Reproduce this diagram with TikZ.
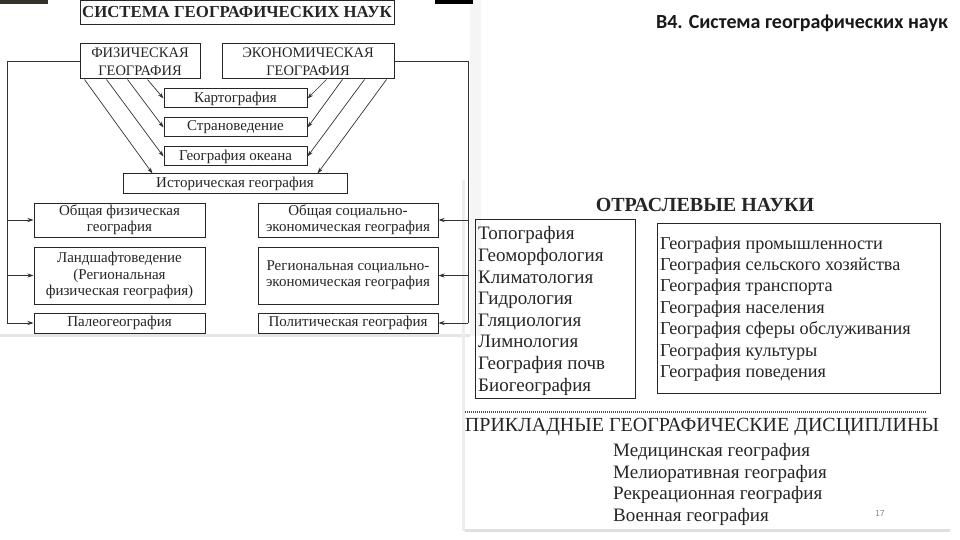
\documentclass[tikz,border=0pt]{standalone}
\usepackage{fontspec}
\setmainfont{Liberation Serif}
\newfontfamily\hdrfont{Carlito}
\usetikzlibrary{arrows.meta}
\newcommand\fTitle{\fontsize{16.8}{18}\bfseries\selectfont}
\newcommand\fCaps{\fontsize{14.5}{18}\selectfont}
\newcommand\fSmall{\fontsize{15}{16.3}\selectfont}
\newcommand\fList{\fontsize{19}{21.6}\selectfont}
\newcommand\fListR{\fontsize{18.2}{21.4}\selectfont}
\newcommand\fBig{\fontsize{20}{24}\selectfont}
\begin{document}
\begin{tikzpicture}[x=1pt,y=-1pt,
  bx/.style={draw=black!85, line width=1pt, inner sep=0pt, align=center, text=black!85},
  ln/.style={draw=black!80, line width=0.7pt},
  arr/.style={ln, -{Stealth[length=6pt,width=4pt]}},
  lst/.style={align=left, inner sep=0pt, text=black!85, font=\fList}
]
\useasboundingbox[fill=white] (0,0) rectangle (960,540);
% background strips
\fill[black!4] (470,0) rectangle (481,336);
\fill[black!10] (0,334) rectangle (470,337);
\fill[black!85!olive] (0,0) rectangle (48,4);
\fill[black] (435,0) rectangle (473,4);
\fill[black!7] (462,180) rectangle (465,531);
\fill[black!12] (465,529) rectangle (950,532);

% left diagram
\node[bx, minimum width=314pt, minimum height=24pt, font=\fTitle] (title) at (237,12.5) {СИСТЕМА ГЕОГРАФИЧЕСКИХ НАУК};
\node[bx, minimum width=120pt, minimum height=35pt, font=\fCaps] (phys) at (140,61.5) {ФИЗИЧЕСКАЯ\\ГЕОГРАФИЯ};
\node[bx, minimum width=172pt, minimum height=35pt, font=\fCaps] (econ) at (308,61.5) {ЭКОНОМИЧЕСКАЯ\\ГЕОГРАФИЯ};
\node[bx, minimum width=143pt, minimum height=19pt, font=\fSmall] (kart) at (235.5,98.5) {Картография};
\node[bx, minimum width=143pt, minimum height=19pt, font=\fSmall] (stran) at (235.5,127.5) {Страноведение};
\node[bx, minimum width=143pt, minimum height=19pt, font=\fSmall] (ocean) at (235.5,156.5) {География океана};
\node[bx, minimum width=224pt, minimum height=19pt, font=\fSmall] (hist) at (235,183.5) {Историческая география};

\node[bx, minimum width=171pt, minimum height=34pt, font=\fSmall] (ofg) at (119.5,220) {Общая физическая\\география};
\node[bx, minimum width=171pt, minimum height=57pt, font=\fSmall] (land) at (119.5,275.5) {Ландшафтоведение\\(Региональная\\физическая география)};
\node[bx, minimum width=171pt, minimum height=20pt, font=\fSmall] (paleo) at (119.5,323) {Палеогеография};
\node[bx, minimum width=180pt, minimum height=34pt, font=\fSmall] (oseg) at (348,220) {Общая социально-\\экономическая география};
\node[bx, minimum width=180pt, minimum height=57pt, font=\fSmall] (rseg) at (348,275.5) {Региональная социально-\\экономическая география};
\node[bx, minimum width=180pt, minimum height=20pt, font=\fSmall] (polit) at (348,323) {Политическая география};

% diagonal arrows
\draw[arr] ([xshift=68pt]phys.south west) -- (kart.west);
\draw[arr] ([xshift=48pt]phys.south west) -- (stran.west);
\draw[arr] ([xshift=27pt]phys.south west) -- (ocean.west);
\draw[arr] ([xshift=5pt]phys.south west) -- ([xshift=30pt]hist.north west);
\draw[arr] ([xshift=105pt]econ.south west) -- (kart.east);
\draw[arr] ([xshift=121pt]econ.south west) -- (stran.east);
\draw[arr] ([xshift=143pt]econ.south west) -- (ocean.east);
\draw[arr] ([xshift=165pt]econ.south west) -- ([xshift=-30pt]hist.north east);

% outer frame
\coordinate (lc) at (7,323);
\coordinate (rc) at (468,323);
\draw[ln] (phys.west) -| (lc);
\draw[arr] (lc) -- (paleo.west);
\draw[arr] (lc |- ofg.west) -- (ofg.west);
\draw[arr] (lc |- land.west) -- (land.west);
\draw[ln] (econ.east) -| (rc);
\draw[arr] (rc) -- (polit.east);
\draw[arr] (rc |- oseg.east) -- (oseg.east);
\draw[arr] (rc |- rseg.east) -- (rseg.east);

% right header
\node[font=\hdrfont\fontsize{20}{24}\bfseries\selectfont, text=black!90] (hdr) at (802,23) {В4. Система географических наук};

% right image
\node[font=\fBig\bfseries, text=black!85] (otr) at (705,205) {ОТРАСЛЕВЫЕ НАУКИ};
\node[bx, minimum width=160pt, minimum height=179pt] (lbox) at (555,308.5) {};
\node[lst, anchor=west] (ltxt) at (478,311) {Топография\\Геоморфология\\Климатология\\Гидрология\\Гляциология\\Лимнология\\География почв\\Биогеография};
\node[bx, minimum width=283pt, minimum height=170pt] (rbox) at (798.5,308) {};
\node[lst, font=\fListR, anchor=west] (rtxt) at (660,309) {География промышленности\\География сельского хозяйства\\География транспорта\\География населения\\География сферы обслуживания\\География культуры\\География поведения};
\coordinate (d1) at (465,412);
\coordinate (d2) at (927,412);
\draw[black!70, line width=1.2pt, dash pattern=on 1pt off 1pt] (d1) -- (d2);
\node[font=\fBig, text=black!85] (prik) at (702,427) {ПРИКЛАДНЫЕ ГЕОГРАФИЧЕСКИЕ ДИСЦИПЛИНЫ};
\node[lst, anchor=west] (ptxt) at (613,484.5) {Медицинская география\\Мелиоративная география\\Рекреационная география\\Военная география};
\node[font=\sffamily\fontsize{9}{10}\selectfont, text=black!50] (num) at (880,514) {17};
\end{tikzpicture}
\end{document}
